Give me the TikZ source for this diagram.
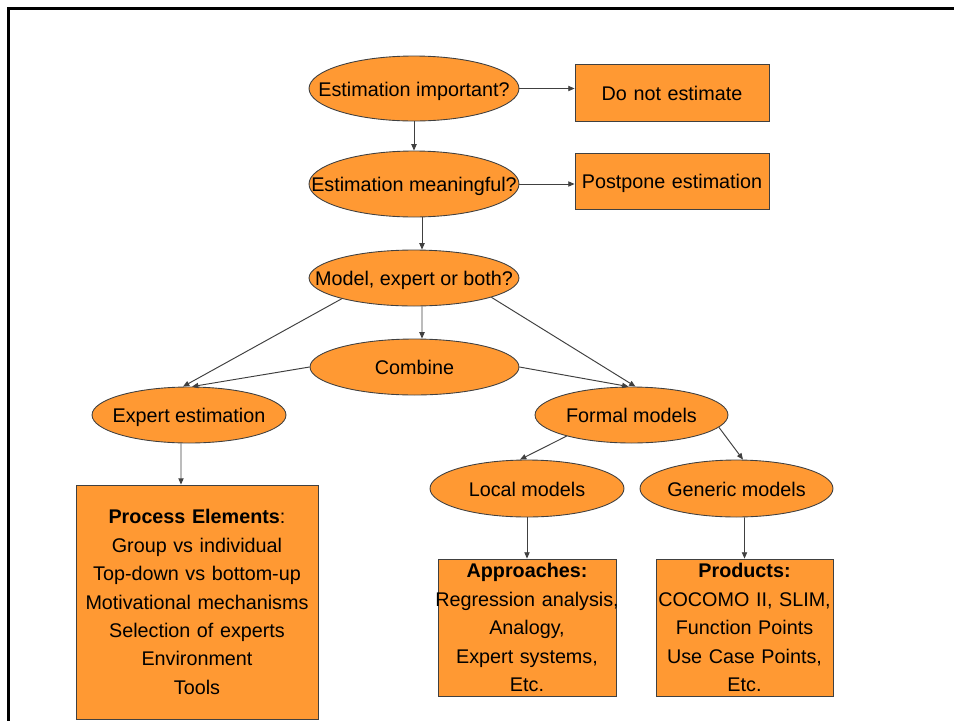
\documentclass[tikz,border=0pt]{standalone}
\usepackage{fontspec}
\setmainfont{Liberation Sans}
\usetikzlibrary{shapes.geometric,arrows.meta}
\definecolor{estorange}{RGB}{255,153,51}
\definecolor{estline}{RGB}{64,64,64}

\begin{document}
\begin{tikzpicture}[x=0.02cm, y=-0.02cm,
  font=\fontsize{11.25}{16.2}\selectfont,
  oval/.style={ellipse, draw=estline, line width=0.5pt, fill=estorange,
    inner xsep=-1cm, inner ysep=0pt, text height=9pt, text depth=0pt,
    minimum width=4.2cm, minimum height=1.12cm},
  box/.style={rectangle, draw=estline, line width=0.5pt, fill=estorange,
    inner sep=0pt, align=center},
  arr/.style={-{Triangle[length=3.6pt,width=3pt]}, draw=estline, line width=0.55pt}]
\useasboundingbox (0,0) rectangle (954,721);

% Frame
\draw[line width=1.4pt] (954,8.5) -- (8.5,8.5) -- (8.5,721);

% Questions
\node[oval, minimum height=1.3cm] (imp) at (414,88.5) {Estimation important?};
\node[box, text width=3.88cm, text height=9pt, text depth=0pt, minimum height=1.14cm] (dne) at (672,92.5) {Do not estimate};
\node[oval, minimum height=1.32cm] (mean) at (414,184) {Estimation meaningful?};
\node[box, text width=3.88cm, text height=9pt, text depth=0pt, minimum height=1.12cm] (ppe) at (672,181) {Postpone estimation};
\node[oval] (model) at (414,278) {Model, expert or both?};
\node[oval, minimum width=4.18cm] (comb) at (414.5,367) {Combine};

% Methods
\node[oval, minimum width=3.88cm] (expert) at (189,415) {Expert estimation};
\node[oval, minimum width=3.86cm] (formal) at (631.5,415) {Formal models};
\node[oval, minimum width=3.88cm, minimum height=1.14cm] (local) at (527,488.5) {Local models};
\node[oval, minimum width=3.86cm, minimum height=1.14cm] (generic) at (736.5,488.5) {Generic models};

% Lists
\node[box, text width=4.84cm, minimum height=4.68cm] (proc) at (197,602) {\textbf{Process Elements}:\\
  Group vs individual\\ Top-down vs bottom-up\\ Motivational mechanisms\\
  Selection of experts\\ Environment\\ Tools};
\node[box, text width=3.56cm, minimum height=2.74cm] (appr) at (527,627.5) {\textbf{Approaches:}\\
  \makebox[0pt]{Regression analysis,}\\ Analogy,\\ Expert systems,\\ Etc.};
\node[box, text width=3.54cm, minimum height=2.74cm] (prod) at (744.5,627.5) {\textbf{Products:}\\
  COCOMO II, SLIM,\\ Function Points\\ Use Case Points,\\ Etc.};

% Arrows
\draw[arr] (imp.east) -- (imp.east -| dne.west);
\draw[arr] (mean.east) -- (mean.east -| ppe.west);
\foreach \a/\b in {imp.south/mean.north, local.south/appr.north} {
    \draw[arr] (\a) -- (\b);
}
\draw[arr] ([xshift=0.16cm]mean.south) -- ([xshift=0.16cm]model.north);
\draw[arr] ([xshift=0.16cm]model.south) -- ([xshift=0.15cm]comb.north);
\draw[arr] (model.196) -- ([xshift=-0.12cm]expert.north);
\draw[arr] (comb.west) -- ([xshift=0.06cm]expert.north);
\draw[arr] (model.-14) -- ([xshift=0.08cm]formal.north);
\draw[arr] (comb.east) -- ([xshift=-0.06cm]formal.north);
\draw[arr] (formal.198) -- ([xshift=-0.14cm]local.north);
\draw[arr] (formal.-8) -- ([xshift=0.13cm]generic.north);
\draw[arr] ([xshift=-0.16cm]expert.south) -- ([xshift=-0.32cm]proc.north);
\draw[arr] ([xshift=0.16cm]generic.south) -- (prod.north);
\end{tikzpicture}
\end{document}
